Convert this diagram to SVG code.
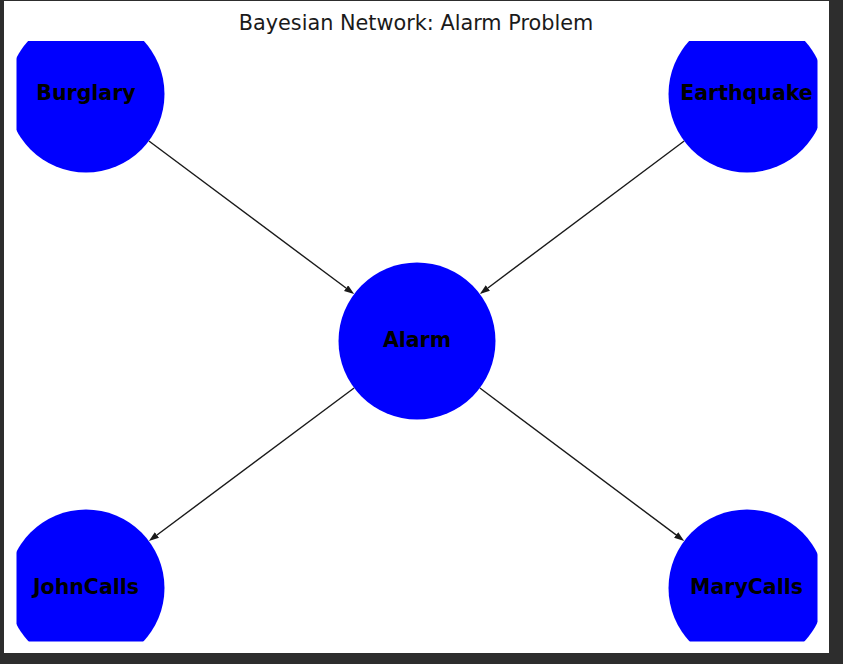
<svg xmlns="http://www.w3.org/2000/svg" width="843" height="664" viewBox="0 0 843 664">
  <style>
    .node { fill: #0000ff; }
    .label { font-family: "DejaVu Sans", sans-serif; font-weight: bold; font-size: 20.5px; fill: #000; text-anchor: middle; }
    .title { font-family: "DejaVu Sans", sans-serif; font-size: 20.8px; fill: #1a1a1a; text-anchor: middle; }
    .edge { stroke: #1a1a1a; stroke-width: 1.4; fill: none; marker-end: url(#arrow); }
  </style>
  <defs>
    <clipPath id="axes">
      <rect x="16.5" y="41" width="801" height="600.5"/>
    </clipPath>
    <marker id="arrow" markerUnits="userSpaceOnUse" markerWidth="12" markerHeight="8" refX="7" refY="3.5" orient="auto">
      <path d="M0,0 L10,3.5 L0,7 Z" fill="#1a1a1a"/>
    </marker>
  </defs>
  <rect x="0" y="0" width="843" height="664" fill="#2d2d2d"/>
  <rect x="4" y="1" width="825" height="652" fill="#ffffff"/>
  <text class="title" x="416" y="30">Bayesian Network: Alarm Problem</text>
  <g id="edges">
    <line class="edge" x1="148.9" y1="141" x2="351.7" y2="292.3"/>
    <line class="edge" x1="684.2" y1="141" x2="482.25" y2="292.2"/>
    <line class="edge" x1="354.1" y1="387.95" x2="151.3" y2="539.25"/>
    <line class="edge" x1="479.85" y1="388" x2="681.75" y2="539.16"/>
  </g>
  <g clip-path="url(#axes)">
    <g id="burglary">
      <circle class="node" cx="86" cy="94" r="78.5"/>
      <text class="label" x="86" y="99.5">Burglary</text>
    </g>
    <g id="earthquake">
      <circle class="node" cx="747" cy="94" r="78.5"/>
      <text class="label" x="746.5" y="99.5">Earthquake</text>
    </g>
    <g id="alarm">
      <circle class="node" cx="417" cy="341" r="78.5"/>
      <text class="label" x="417" y="346.5">Alarm</text>
    </g>
    <g id="johncalls">
      <circle class="node" cx="86" cy="588" r="78.5"/>
      <text class="label" x="86" y="593.5">JohnCalls</text>
    </g>
    <g id="marycalls">
      <circle class="node" cx="747" cy="588" r="78.5"/>
      <text class="label" x="746.5" y="593.5">MaryCalls</text>
    </g>
  </g>
</svg>
